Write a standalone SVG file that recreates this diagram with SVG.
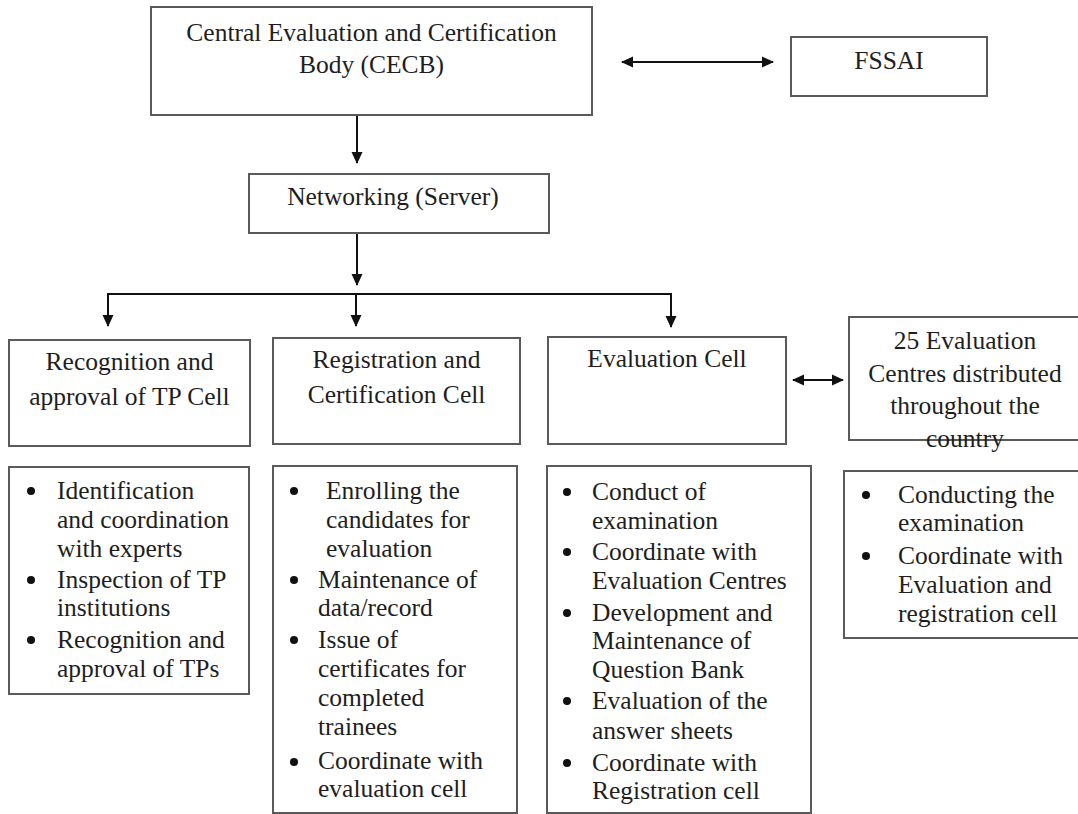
<svg xmlns="http://www.w3.org/2000/svg" width="1078" height="814" viewBox="0 0 1078 814">
<style>
.box{fill:#fff;stroke:#5a5a5a;stroke-width:2}
.t{font-family:"Liberation Serif","Times New Roman",serif;font-size:25.5px;fill:#1e1e1e}
.c{text-anchor:middle}
.ln{stroke:#111;stroke-width:2;fill:none}
.b{fill:#111}
</style>
<defs>
<marker id="ah" viewBox="0 0 12 12" refX="11" refY="6" markerWidth="12" markerHeight="12" markerUnits="userSpaceOnUse" orient="auto-start-reverse">
<path d="M0,0.5 L12,6 L0,11.5 Z" fill="#111"/>
</marker>
</defs>
<rect width="1078" height="814" fill="#fff"/>
<g id="connectors">
<line class="ln" x1="357" y1="115" x2="357" y2="163" marker-end="url(#ah)"/>
<line class="ln" x1="357" y1="233" x2="357" y2="285" marker-end="url(#ah)"/>
<polyline class="ln" points="108,326 108,294 671,294 671,327" marker-start="url(#ah)" marker-end="url(#ah)"/>
<line class="ln" x1="356" y1="294" x2="356" y2="326" marker-end="url(#ah)"/>
<line class="ln" x1="622" y1="62" x2="773" y2="62" marker-start="url(#ah)" marker-end="url(#ah)"/>
<line class="ln" x1="793" y1="380" x2="843" y2="380" marker-start="url(#ah)" marker-end="url(#ah)"/>
</g>
<g id="cecb">
<rect class="box" x="151" y="7" width="441" height="108"/>
<text class="t c" x="371.5" y="41">Central Evaluation and Certification</text>
<text class="t c" x="371.5" y="73">Body (CECB)</text>
</g>
<g id="fssai">
<rect class="box" x="791" y="37" width="196" height="59"/>
<text class="t c" x="889" y="69">FSSAI</text>
</g>
<g id="networking">
<rect class="box" x="249" y="174" width="300" height="59"/>
<text class="t c" x="393" y="205">Networking (Server)</text>
</g>
<g id="recognition">
<rect class="box" x="9" y="340" width="241" height="106"/>
<text class="t c" x="129.5" y="370">Recognition and</text>
<text class="t c" x="129.5" y="405">approval of TP Cell</text>
</g>
<g id="registration">
<rect class="box" x="273" y="338" width="247" height="106"/>
<text class="t c" x="396.5" y="368">Registration and</text>
<text class="t c" x="396.5" y="403">Certification Cell</text>
</g>
<g id="evaluation">
<rect class="box" x="548" y="337" width="238" height="107"/>
<text class="t c" x="667" y="367">Evaluation Cell</text>
</g>
<g id="centres">
<rect class="box" x="849" y="317" width="240" height="123" fill="none" style="fill:none"/>
<text class="t c" x="965" y="349">25 Evaluation</text>
<text class="t c" x="965" y="382">Centres distributed</text>
<text class="t c" x="965" y="414">throughout the</text>
<text class="t c" x="965" y="447">country</text>
</g>
<g id="recognition-tasks">
<rect class="box" x="9" y="467" width="240" height="227"/>
<circle class="b" cx="31" cy="491" r="4"/>
<circle class="b" cx="31" cy="580" r="4"/>
<circle class="b" cx="31" cy="640" r="4"/>
<text class="t" x="57" y="499">Identification</text>
<text class="t" x="57" y="528">and coordination</text>
<text class="t" x="57" y="557">with experts</text>
<text class="t" x="57" y="588">Inspection of TP</text>
<text class="t" x="57" y="616">institutions</text>
<text class="t" x="57" y="648">Recognition and</text>
<text class="t" x="57" y="677">approval of TPs</text>
</g>
<g id="registration-tasks">
<rect class="box" x="273" y="466" width="244" height="347"/>
<circle class="b" cx="294" cy="491" r="4"/>
<circle class="b" cx="294" cy="580" r="4"/>
<circle class="b" cx="294" cy="640" r="4"/>
<circle class="b" cx="294" cy="762" r="4"/>
<text class="t" x="326" y="499">Enrolling the</text>
<text class="t" x="326" y="528">candidates for</text>
<text class="t" x="326" y="557">evaluation</text>
<text class="t" x="318" y="588">Maintenance of</text>
<text class="t" x="318" y="616">data/record</text>
<text class="t" x="318" y="648">Issue of</text>
<text class="t" x="318" y="677">certificates for</text>
<text class="t" x="318" y="706">completed</text>
<text class="t" x="318" y="735">trainees</text>
<text class="t" x="318" y="769">Coordinate with</text>
<text class="t" x="318" y="797">evaluation cell</text>
</g>
<g id="evaluation-tasks">
<rect class="box" x="547" y="466" width="264" height="347"/>
<circle class="b" cx="567" cy="492" r="4"/>
<circle class="b" cx="567" cy="552" r="4"/>
<circle class="b" cx="567" cy="613" r="4"/>
<circle class="b" cx="567" cy="701" r="4"/>
<circle class="b" cx="567" cy="763" r="4"/>
<text class="t" x="592" y="500">Conduct of</text>
<text class="t" x="592" y="529">examination</text>
<text class="t" x="592" y="560">Coordinate with</text>
<text class="t" x="592" y="589">Evaluation Centres</text>
<text class="t" x="592" y="621">Development and</text>
<text class="t" x="592" y="649">Maintenance of</text>
<text class="t" x="592" y="678">Question Bank</text>
<text class="t" x="592" y="709">Evaluation of the</text>
<text class="t" x="592" y="739">answer sheets</text>
<text class="t" x="592" y="771">Coordinate with</text>
<text class="t" x="592" y="799">Registration cell</text>
</g>
<g id="centres-tasks">
<rect class="box" x="844" y="471" width="245" height="167"/>
<circle class="b" cx="866" cy="495" r="4"/>
<circle class="b" cx="866" cy="556" r="4"/>
<text class="t" x="898" y="503">Conducting the</text>
<text class="t" x="898" y="531">examination</text>
<text class="t" x="898" y="564">Coordinate with</text>
<text class="t" x="898" y="593">Evaluation and</text>
<text class="t" x="898" y="622">registration cell</text>
</g>
</svg>
